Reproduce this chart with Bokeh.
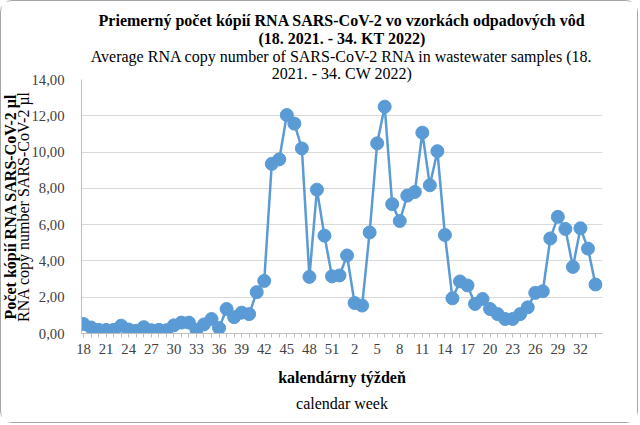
from bokeh.plotting import figure
from bokeh.models import ColumnDataSource, FixedTicker, Range1d, Title
from bokeh.embed import file_html
from bokeh.resources import INLINE

# calendar weeks: 18/2021 ... 52/2021, 1/2022 ... 34/2022
weeks = ["18", "19", "20", "21", "22", "23", "24", "25", "26", "27", "28", "29",
         "30", "31", "32", "33", "34", "35", "36", "37", "38", "39", "40", "41",
         "42", "43", "44", "45", "46", "47", "48", "49", "50", "51", "52",
         "1", "2", "3", "4", "5", "6", "7", "8", "9", "10", "11", "12", "13",
         "14", "15", "16", "17", "18", "19", "20", "21", "22", "23", "24", "25",
         "26", "27", "28", "29", "30", "31", "32", "33", "34"]

values = [0.52, 0.33, 0.20, 0.20, 0.20, 0.43, 0.22, 0.15, 0.35, 0.18, 0.20, 0.18,
          0.45, 0.60, 0.60, 0.20, 0.50, 0.80, 0.30, 1.35, 0.90, 1.15, 1.07, 2.28,
          2.90, 9.35, 9.60, 12.04, 11.57, 10.20, 3.12, 7.93, 5.39, 3.15, 3.20,
          4.30, 1.68, 1.54, 5.57, 10.48, 12.50, 7.13, 6.20, 7.60, 7.80, 11.07, 8.17, 10.05,
          5.43, 1.94, 2.87, 2.65, 1.63, 1.90, 1.35, 1.07, 0.80, 0.80, 1.07, 1.44,
          2.24, 2.33, 5.24, 6.43, 5.76, 3.67, 5.80, 4.68, 2.70]

y_ticks = [0, 2, 4, 6, 8, 10, 12, 14]
y_tick_labels = ["0,00", "2,00", "4,00", "6,00", "8,00", "10,00", "12,00", "14,00"]

title_lines = ["Priemerný počet kópií RNA SARS-CoV-2 vo vzorkách odpadových vôd",
               "(18. 2021. - 34. KT 2022)",
               "Average RNA copy number of SARS-CoV-2 RNA in wastewater samples (18.",
               "2021. - 34. CW 2022)"]
y_label_sk = "Počet kópií RNA SARS-CoV-2 µl"
y_label_en = "RNA copy number SARS-CoV-2 µl"
x_label_sk = "kalendárny týždeň"
x_label_en = "calendar week"

FONT = "'Liberation Serif', serif"
BLUE = "#5b9bd5"

xs = list(range(len(weeks)))
src = ColumnDataSource(dict(x=xs, y=values))

p = figure(width=638, height=423, output_backend="svg", toolbar_location=None,
           title=None, x_range=Range1d(-0.27, 68.93), y_range=Range1d(0, 14),
           min_border_left=77, min_border_right=37, min_border_top=78,
           min_border_bottom=91)
p.styles = {"border": "1px solid #a6a6a6", "border-radius": "12px"}
p.outline_line_color = None
p.background_fill_color = "white"
p.border_fill_color = "white"

p.line("x", "y", source=src, line_color=BLUE, line_width=2.5)
p.scatter("x", "y", source=src, size=13, fill_color=BLUE, line_color=BLUE)

p.xgrid.visible = False
p.ygrid.grid_line_color = "#d9d9d9"
p.ygrid.grid_line_width = 1.2

ya = p.yaxis[0]
ya.ticker = FixedTicker(ticks=y_ticks, minor_ticks=[])
ya.major_label_overrides = {t: l for t, l in zip(y_ticks, y_tick_labels)}
ya.major_tick_line_color = None
ya.minor_tick_line_color = None
ya.axis_line_color = "#bfbfbf"
ya.major_label_standoff = 11
ya.major_label_text_font = FONT
ya.major_label_text_font_size = "14.7px"
ya.major_label_text_color = "#404040"

xa = p.xaxis[0]
xa.ticker = FixedTicker(ticks=xs, minor_ticks=[])
xa.major_label_overrides = {i: (weeks[i] if i % 3 == 0 else "") for i in xs}
xa.major_tick_line_color = "#bfbfbf"
xa.major_tick_out = 4
xa.major_tick_in = 0
xa.minor_tick_line_color = None
xa.axis_line_color = "#bfbfbf"
xa.major_label_standoff = 6
xa.major_label_text_font = FONT
xa.major_label_text_font_size = "14.7px"
xa.major_label_text_color = "#404040"


def title(text, side, bold=False, size="16px", standoff=0, offset=0):
    t = Title(text=text, align="center", text_font=FONT, text_font_size=size,
              text_font_style="bold" if bold else "normal", text_color="black",
              standoff=standoff, offset=offset)
    p.add_layout(t, side)


# above: later additions are placed further out
title(title_lines[3], "above", standoff=-4, offset=11)
title(title_lines[2], "above", standoff=-1, offset=11)
title(title_lines[1], "above", bold=True, standoff=-1, offset=11)
title(title_lines[0], "above", bold=True, standoff=-1, offset=13)
# below
title(x_label_sk, "below", bold=True, standoff=21, offset=6)
title(x_label_en, "below", standoff=-8, offset=6)
# left: later additions are placed further out
title(y_label_en, "left", standoff=-7, offset=-7)
title(y_label_sk, "left", bold=True, standoff=-4, offset=-12)

open("out.html", "w").write(file_html(p, INLINE))
